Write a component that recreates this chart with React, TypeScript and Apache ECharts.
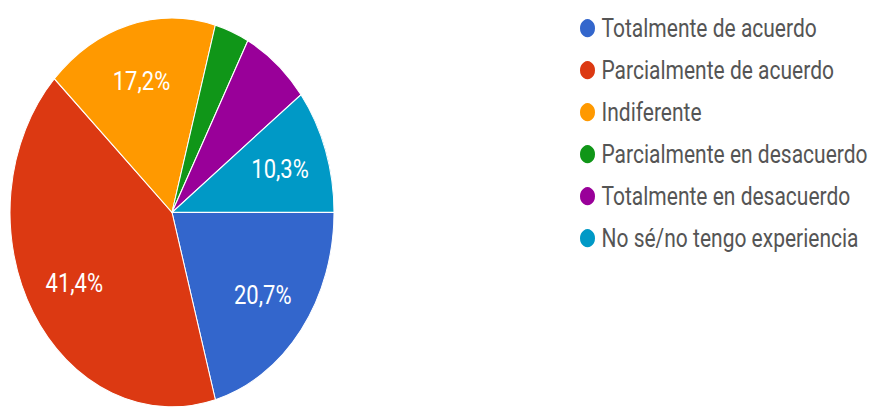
import React, { useEffect, useRef } from "react";
import * as echarts from "echarts";

const categories = [
  "Totalmente de acuerdo",
  "Parcialmente de acuerdo",
  "Indiferente",
  "Parcialmente en desacuerdo",
  "Totalmente en desacuerdo",
  "No sé/no tengo experiencia",
];
const counts = [6, 12, 5, 1, 2, 3];
const colors = ["#3366cc", "#dc3912", "#ff9900", "#109618", "#990099", "#0099c6"];

const STRETCH = 1.2;

export default function App() {
  const ref = useRef<HTMLDivElement>(null);
  useEffect(() => {
    if (!ref.current) return;
    const chart = echarts.init(ref.current, undefined, { renderer: "svg" });
    const total = counts.reduce((a, b) => a + b, 0);
    const data = categories.map((name, i) => ({
      name,
      value: counts[i],
      itemStyle: { color: colors[i] },
    }));
    chart.setOption({
      animation: false,
      backgroundColor: "#ffffff",
      color: colors,
      legend: {
        orient: "vertical",
        left: 573,
        top: 8,
        icon: "circle",
        itemWidth: 18,
        itemHeight: 17,
        itemGap: 14,
        selectedMode: false,
        textStyle: {
          fontFamily: "Roboto",
          fontSize: 21,
          color: "#555555",
          lineHeight: 20,
        },
        data: categories,
      },
      series: [
        {
          type: "pie",
          center: [172, 177],
          radius: [0, 162],
          startAngle: 0,
          clockwise: true,
          silent: true,
          label: { show: false },
          labelLine: { show: false },
          itemStyle: { borderColor: "#ffffff", borderWidth: 1 },
          data,
        },
        {
          type: "pie",
          center: [172, 177],
          radius: [60, 162],
          startAngle: 0,
          clockwise: true,
          silent: true,
          legendHoverLink: false,
          itemStyle: { color: "rgba(0,0,0,0)", borderWidth: 0 },
          labelLine: { show: false },
          label: {
            show: true,
            position: "inside",
            fontFamily: "Roboto",
            fontSize: 22,
            color: "#ffffff",
            formatter: (p: any) => {
              const pct = (p.value / total) * 100;
              if (pct < 10) return "";
              return pct.toFixed(1).replace(".", ",") + "%";
            },
          },
          data: categories.map((name, i) => ({ name: name + " ", value: counts[i] })),
        },
      ],
    });
    return () => chart.dispose();
  }, []);
  return (
    <div
      style={{
        position: "fixed",
        left: 0,
        top: 0,
        width: 880,
        height: 411,
        overflow: "hidden",
        background: "#ffffff",
      }}
    >
      <div
        ref={ref}
        style={{
          width: 880,
          height: Math.round(411 / STRETCH),
          transform: `scaleY(${STRETCH})`,
          transformOrigin: "0 0",
        }}
      />
    </div>
  );
}
